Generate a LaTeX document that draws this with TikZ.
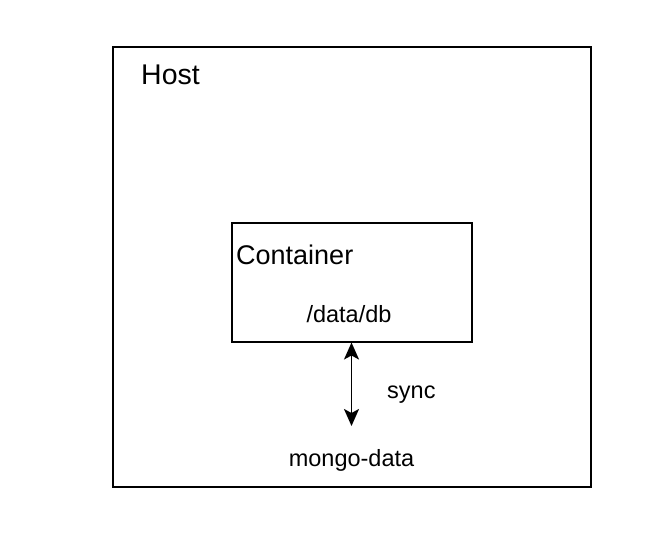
\documentclass[tikz,border=0pt]{standalone}
\usepackage{fontspec}
\setmainfont{Liberation Sans}
\usetikzlibrary{arrows.meta}
\begin{document}
\begin{tikzpicture}[x=1pt,y=-1pt,
  box/.style={draw=black, line width=1.5pt, inner sep=0pt},
  bigtxt/.style={font=\fontsize{28.5}{32}\selectfont, inner sep=0pt, anchor=base west},
  midtxt/.style={font=\fontsize{27}{31}\selectfont, inner sep=0pt, anchor=base west},
  smalltxt/.style={font=\fontsize{23.5}{27}\selectfont, inner sep=0pt, anchor=base},
  sync/.style={line width=1.8pt, {Stealth[length=17pt,width=15pt,inset=4pt]}-{Stealth[length=17pt,width=15pt,inset=4pt]}}
]
\useasboundingbox (0,0) rectangle (668,556);
\node[box, minimum width=478pt, minimum height=440pt] (host) at (352,267) {};
\node[box, minimum width=240pt, minimum height=119pt] (container) at (352,282.5) {};
\node[bigtxt] (hostlabel) at (141,85) {Host};
\node[midtxt] (containerlabel) at (236,264) {Container};
\node[smalltxt] (datadb) at (349,322) {/data/db};
\node[smalltxt, anchor=base west] (synclabel) at (387,398) {sync};
\node[smalltxt] (mongo) at (351.5,466) {mongo-data};
\coordinate (arrowtop) at (351.5,342.5);
\coordinate (arrowbot) at (351.5,426);
\draw[sync] (arrowtop) -- (arrowbot);
\end{tikzpicture}
\end{document}
